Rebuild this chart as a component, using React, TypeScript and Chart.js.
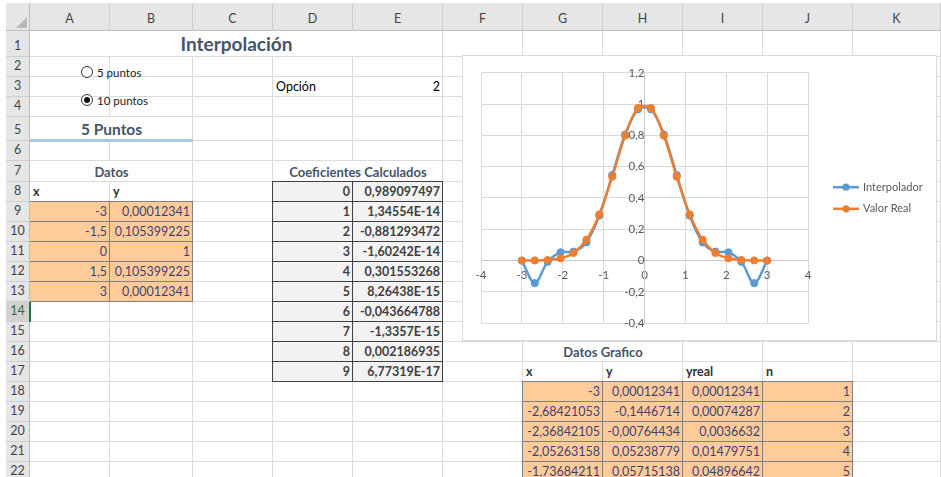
import React, { useEffect, useRef } from "react";
import { Chart, registerables } from "chart.js";

Chart.register(...registerables);

// ---------- chart data ----------
const xValues = [
  -3, -2.68421053, -2.36842105, -2.05263158, -1.73684211, -1.42105263, -1.10526316,
  -0.78947368, -0.47368421, -0.15789474, 0.15789474, 0.47368421, 0.78947368, 1.10526316,
  1.42105263, 1.73684211, 2.05263158, 2.36842105, 2.68421053, 3,
];
const interpolador = [
  0.00012341, -0.1446714, -0.00764434, 0.05238779, 0.05715138, 0.11593, 0.287786,
  0.546715, 0.80605, 0.967311, 0.967311, 0.80605, 0.546715, 0.287786,
  0.11593, 0.05715138, 0.05238779, -0.00764434, -0.1446714, 0.00012341,
];
const valorReal = [
  0.00012341, 0.00074287, 0.0036632, 0.01479751, 0.04896642, 0.132736, 0.294756,
  0.536189, 0.799014, 0.975377, 0.975377, 0.799014, 0.536189, 0.294756,
  0.132736, 0.04896642, 0.01479751, 0.0036632, 0.00074287, 0.00012341,
];
const seriesNames = ["Interpolador", "Valor Real"];
const seriesColors = ["#5B9BD5", "#ED7D31"];
const xTicks = [-4, -3, -2, -1, 0, 1, 2, 3, 4];
const xTickLabels = ["-4", "-3", "-2", "-1", "0", "1", "2", "3", "4"];
const yTicks = [-0.4, -0.2, 0, 0.2, 0.4, 0.6, 0.8, 1, 1.2];
const yTickLabels = ["-0,4", "-0,2", "0", "0,2", "0,4", "0,6", "0,8", "1", "1,2"];

// ---------- sheet data ----------
const colLetters = ["A", "B", "C", "D", "E", "F", "G", "H", "I", "J", "K"];
const datosX = ["-3", "-1,5", "0", "1,5", "3"];
const datosY = ["0,00012341", "0,105399225", "1", "0,105399225", "0,00012341"];
const coefIdx = ["0", "1", "2", "3", "4", "5", "6", "7", "8", "9"];
const coefVals = [
  "0,989097497", "1,34554E-14", "-0,881293472", "-1,60242E-14", "0,301553268",
  "8,26438E-15", "-0,043664788", "-1,3357E-15", "0,002186935", "6,77319E-17",
];
const grafX = ["-3", "-2,68421053", "-2,36842105", "-2,05263158", "-1,73684211"];
const grafY = ["0,00012341", "-0,1446714", "-0,00764434", "0,05238779", "0,05715138"];
const grafYreal = ["0,00012341", "0,00074287", "0,0036632", "0,01479751", "0,04896642"];
const grafN = ["1", "2", "3", "4", "5"];

// layout of the sheet
const COLS = [30, 110, 193, 273, 353, 443, 523, 603, 683, 763, 853, 941];
const ROWS = [31, 57, 77, 97, 117, 141, 161, 182, 202, 222, 242, 262, 282, 302, 322, 342, 362, 382, 402, 422, 442, 462, 482];
const merges = [
  { r: 1, c1: 0, c2: 4 },
  { r: 5, c1: 0, c2: 1 },
  { r: 7, c1: 0, c2: 1 },
  { r: 7, c1: 3, c2: 4 },
  { r: 16, c1: 6, c2: 7 },
];

const FONT = "Lato, 'Open Sans', sans-serif";
const GRID = "#dadada";
const HEAD = "#44546A";

type TextCell = {
  r: number; c1: number; c2?: number; text: string; align: "left" | "right" | "center";
  bold?: boolean; size?: number; color?: string; lh?: number;
};

function cellBox(r: number, c1: number, c2: number) {
  return {
    left: COLS[c1], top: ROWS[r - 1],
    width: COLS[c2 + 1] - COLS[c1], height: ROWS[r] - ROWS[r - 1],
  };
}

// Excel-like legend: line with a dot, to the right of the plot area
const sideLegend = {
  id: "sideLegend",
  afterDraw(chart: any) {
    const { ctx, chartArea } = chart;
    const mid = (chartArea.top + chartArea.bottom) / 2;
    const n = chart.data.datasets.length;
    const gap = 21.6;
    chart.data.datasets.forEach((ds: any, i: number) => {
      const y = mid + (i - (n - 1) / 2) * gap;
      const x0 = chartArea.right + 25;
      ctx.save();
      ctx.strokeStyle = ds.borderColor;
      ctx.lineWidth = 2.5;
      ctx.beginPath();
      ctx.moveTo(x0, y);
      ctx.lineTo(x0 + 26, y);
      ctx.stroke();
      ctx.fillStyle = ds.borderColor;
      ctx.beginPath();
      ctx.arc(x0 + 13, y, 3.6, 0, Math.PI * 2);
      ctx.fill();
      ctx.fillStyle = "#595959";
      ctx.font = `11px ${FONT}`;
      ctx.textBaseline = "middle";
      ctx.textAlign = "left";
      ctx.fillText(ds.label, x0 + 30, y);
      ctx.restore();
    });
  },
};

function ChartBox() {
  const ref = useRef<HTMLCanvasElement | null>(null);
  useEffect(() => {
    if (!ref.current) return;
    const mkData = (ys: number[]) => xValues.map((x, i) => ({ x, y: ys[i] }));
    const tickFont = { family: FONT, size: 11.5 };
    const mkSet = (i: number, ys: number[], order: number) => ({
      label: seriesNames[i], data: mkData(ys), showLine: true, order,
      borderColor: seriesColors[i], backgroundColor: seriesColors[i], borderWidth: 2.5,
      pointRadius: 3.6, pointBorderWidth: 1,
      pointBackgroundColor: seriesColors[i], pointBorderColor: seriesColors[i],
      tension: 0.33,
    });
    const chart = new Chart(ref.current, {
      type: "scatter",
      data: { datasets: [mkSet(0, interpolador, 1), mkSet(1, valorReal, 0)] },
      options: {
        responsive: false,
        animation: false,
        layout: { padding: { left: 18, top: 13, bottom: 15, right: 128 } },
        plugins: { tooltip: { enabled: false }, legend: { display: false } },
        scales: {
          x: {
            type: "linear",
            position: { y: 0 } as any,
            min: -4, max: 4,
            afterBuildTicks: (s: any) => { s.ticks = xTicks.map((v) => ({ value: v })); },
            afterFit: (s: any) => { s.height = 0; },
            ticks: {
              autoSkip: false, maxRotation: 0, padding: 8, color: "#595959", font: tickFont,
              callback: (v: any) => xTickLabels[xTicks.indexOf(Number(v))],
            },
            grid: { color: "#d9d9d9", drawTicks: false },
            border: { color: "#c8c8c8" },
          },
          y: {
            type: "linear",
            position: { x: 0 } as any,
            min: -0.4, max: 1.2,
            afterBuildTicks: (s: any) => { s.ticks = yTicks.map((v) => ({ value: v })); },
            afterFit: (s: any) => { s.width = 0; },
            ticks: {
              autoSkip: false, padding: 10, color: "#595959", font: tickFont,
              callback: (v: any) => yTickLabels[yTicks.indexOf(Number(v))],
            },
            grid: { color: "#d9d9d9", drawTicks: false },
            border: { color: "#c8c8c8" },
          },
        },
      } as any,
      plugins: [sideLegend],
    });
    return () => chart.destroy();
  }, []);
  return (
    <div style={{ position: "absolute", left: 462, top: 55, width: 475, height: 286, boxSizing: "border-box", border: "1px solid #d9d9d9", background: "#fff" }}>
      <canvas ref={ref} width={473} height={284} style={{ display: "block", width: 473, height: 284 }} />
    </div>
  );
}

function Radio({ x, y, label, checked }: { x: number; y: number; label: string; checked: boolean }) {
  return (
    <div style={{ position: "absolute", left: x, top: y - 7, height: 14, display: "flex", alignItems: "center", fontFamily: FONT, fontSize: 11.5, color: "#222" }}>
      <div style={{ width: 12, height: 12, boxSizing: "border-box", borderRadius: "50%", border: "1px solid #333", background: "#fff", display: "flex", alignItems: "center", justifyContent: "center" }}>
        {checked && <div style={{ width: 6, height: 6, borderRadius: "50%", background: "#111" }} />}
      </div>
      <span style={{ marginLeft: 4 }}>{label}</span>
    </div>
  );
}

export default function App() {
  const grid: React.ReactNode[] = [];
  for (let r = 1; r <= 22; r++) {
    for (let c = 0; c < 11; c++) {
      const m = merges.find((mm) => mm.r === r && c >= mm.c1 && c <= mm.c2);
      if (m && c !== m.c1) continue;
      const b = cellBox(r, c, m ? m.c2 : c);
      grid.push(
        <div key={`g${r}-${c}`} style={{ position: "absolute", ...b, boxSizing: "border-box", borderRight: `1px solid ${GRID}`, borderBottom: `1px solid ${GRID}` }} />
      );
    }
  }

  const styled: React.ReactNode[] = [];
  const styledCell = (r: number, c: number, fill: string, border: string) => {
    const b = cellBox(r, c, c);
    styled.push(
      <div key={`s${r}-${c}`} style={{ position: "absolute", left: b.left - 1, top: b.top - 1, width: b.width + 1, height: b.height + 1, boxSizing: "border-box", border: `1px solid ${border}`, background: fill }} />
    );
  };
  for (let i = 0; i < 5; i++) { styledCell(9 + i, 0, "#FFCC99", "#7F7F7F"); styledCell(9 + i, 1, "#FFCC99", "#7F7F7F"); }
  for (let i = 0; i < 10; i++) { styledCell(8 + i, 3, "#F2F2F2", "#3F3F3F"); styledCell(8 + i, 4, "#F2F2F2", "#3F3F3F"); }
  for (let i = 0; i < 5; i++) for (let c = 6; c <= 9; c++) styledCell(18 + i, c, "#FFCC99", "#7F7F7F");

  const texts: TextCell[] = [
    { r: 1, c1: 0, c2: 4, text: "Interpolación", align: "center", bold: true, size: 19, color: HEAD, lh: 24 },
    { r: 3, c1: 3, text: "Opción", align: "left" },
    { r: 3, c1: 4, text: "2", align: "right" },
    { r: 5, c1: 0, c2: 1, text: "5 Puntos", align: "center", bold: true, size: 15.5, color: HEAD, lh: 21 },
    { r: 7, c1: 0, c2: 1, text: "Datos", align: "center", bold: true, size: 13, color: HEAD },
    { r: 7, c1: 3, c2: 4, text: "Coeficientes Calculados", align: "center", bold: true, size: 13, color: HEAD },
    { r: 8, c1: 0, text: "x", align: "left", bold: true, color: "#333" },
    { r: 8, c1: 1, text: "y", align: "left", bold: true, color: "#333" },
    { r: 16, c1: 6, c2: 7, text: "Datos Grafico", align: "center", bold: true, size: 13, color: HEAD },
    { r: 17, c1: 6, text: "x", align: "left", bold: true, color: "#333" },
    { r: 17, c1: 7, text: "y", align: "left", bold: true, color: "#333" },
    { r: 17, c1: 8, text: "yreal", align: "left", bold: true, color: "#333" },
    { r: 17, c1: 9, text: "n", align: "left", bold: true, color: "#333" },
  ];
  datosX.forEach((t, i) => texts.push({ r: 9 + i, c1: 0, text: t, align: "right", color: "#3F3F76" }));
  datosY.forEach((t, i) => texts.push({ r: 9 + i, c1: 1, text: t, align: "right", color: "#3F3F76" }));
  coefIdx.forEach((t, i) => texts.push({ r: 8 + i, c1: 3, text: t, align: "right", bold: true, color: "#3F3F3F" }));
  coefVals.forEach((t, i) => texts.push({ r: 8 + i, c1: 4, text: t, align: "right", bold: true, color: "#3F3F3F" }));
  grafX.forEach((t, i) => texts.push({ r: 18 + i, c1: 6, text: t, align: "right", color: "#3F3F76" }));
  grafY.forEach((t, i) => texts.push({ r: 18 + i, c1: 7, text: t, align: "right", color: "#3F3F76" }));
  grafYreal.forEach((t, i) => texts.push({ r: 18 + i, c1: 8, text: t, align: "right", color: "#3F3F76" }));
  grafN.forEach((t, i) => texts.push({ r: 18 + i, c1: 9, text: t, align: "right", color: "#3F3F76" }));

  const textEls = texts.map((t, i) => {
    const b = cellBox(t.r, t.c1, t.c2 ?? t.c1);
    return (
      <div key={`t${i}`} style={{
        position: "absolute", ...b, boxSizing: "border-box", padding: "0 3px 1px 3px",
        display: "flex", alignItems: "flex-end",
        justifyContent: t.align === "left" ? "flex-start" : t.align === "right" ? "flex-end" : "center",
        fontFamily: FONT, fontSize: t.size ?? 12.5, lineHeight: `${t.lh ?? 18}px`,
        fontWeight: t.bold ? 700 : 400, color: t.color ?? "#000", whiteSpace: "nowrap", overflow: "visible",
      }}>{t.text}</div>
    );
  });

  const colHeads = colLetters.map((l, c) => (
    <div key={`ch${c}`} style={{
      position: "absolute", left: COLS[c], top: 3, width: COLS[c + 1] - COLS[c], height: 28,
      boxSizing: "border-box", borderRight: "1px solid #cfcfcf", borderBottom: "1px solid #bdbdbd",
      background: "#e6e6e6", display: "flex", alignItems: "flex-end", justifyContent: "center",
      fontFamily: FONT, fontSize: 12.5, lineHeight: "18px", paddingBottom: 2, color: "#444",
    }}>{l}</div>
  ));

  const rowHeads: React.ReactNode[] = [];
  for (let r = 1; r <= 22; r++) {
    const sel = r === 14;
    rowHeads.push(
      <div key={`rh${r}`} style={{
        position: "absolute", left: 6, top: ROWS[r - 1], width: 24, height: ROWS[r] - ROWS[r - 1],
        boxSizing: "border-box", borderRight: "1px solid #bdbdbd", borderBottom: "1px solid #cfcfcf",
        background: sel ? "#d2d2d2" : "#e6e6e6", display: "flex", alignItems: "flex-end", justifyContent: "center",
        fontFamily: FONT, fontSize: 12.5, lineHeight: "18px", paddingBottom: 1, color: sel ? "#2f6a3f" : "#444",
      }}>{r}</div>
    );
  }

  return (
    <div style={{ position: "fixed", left: 0, top: 0, width: 941, height: 477, overflow: "hidden", background: "#fff" }}>
      {grid}
      {styled}
      <div style={{ position: "absolute", left: 30, top: 139, width: 163, height: 3, background: "#A9C8E8" }} />
      {textEls}
      <Radio x={81} y={72} label="5 puntos" checked={false} />
      <Radio x={81} y={100} label="10 puntos" checked={true} />
      <div style={{ position: "absolute", left: 6, top: 3, width: 24, height: 28, boxSizing: "border-box", background: "#e6e6e6", borderRight: "1px solid #bdbdbd", borderBottom: "1px solid #bdbdbd" }} />
      <div style={{ position: "absolute", left: 16, top: 17, width: 0, height: 0, borderLeft: "11px solid transparent", borderBottom: "11px solid #b8b8b8" }} />
      {colHeads}
      {rowHeads}
      <div style={{ position: "absolute", left: 29, top: 302, width: 2, height: 20, background: "#217346" }} />
      <ChartBox />
    </div>
  );
}
